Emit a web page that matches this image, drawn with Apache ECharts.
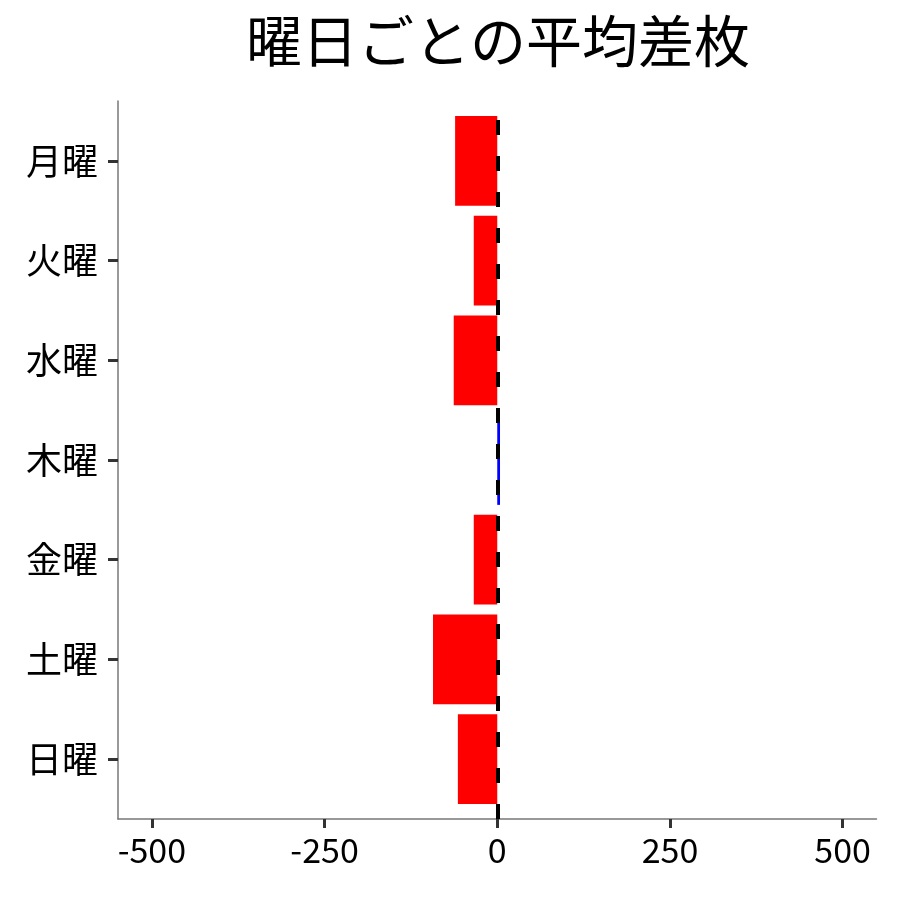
<!DOCTYPE html>
<html>
<head>
<meta charset="utf-8">
<script src="https://cdn.jsdelivr.net/npm/echarts@6/dist/echarts.min.js"></script>
<style>
  html, body { margin: 0; padding: 0; background: #fff; }
  #chart { width: 900px; height: 900px; }
</style>
</head>
<body>
<div id="chart"></div>
<script>
// weekday labels, top to bottom
var days = ['月曜', '火曜', '水曜', '木曜', '金曜', '土曜', '日曜']
// average difference per weekday
var avgDiff = [-61, -34, -63, 4, -34, -93, -57]
// x axis ticks
var xTicks = [-500, -250, 0, 250, 500]

var font = 'Noto Sans CJK JP'

var chart = echarts.init(document.getElementById('chart'))

chart.setOption({
  animation: false,
  backgroundColor: '#fff',
  title: {
    text: '曜日ごとの平均差枚',
    left: 493,
    top: 8,
    textAlign: 'center',
    textStyle: { fontFamily: font, fontSize: 56, fontWeight: 'normal', color: '#000' }
  },
  // outer grid holds the visible x axis and the y axis line; inner grid holds the bars
  grid: [
    { left: 118, right: 23.5, top: 101, bottom: 81 },
    { left: 118, right: 23.5, top: 111, bottom: 91 }
  ],
  xAxis: [
    {
      gridIndex: 0,
      type: 'value',
      min: -549,
      max: 549,
      axisLine: { show: true, onZero: false, lineStyle: { color: '#777', width: 1.5 } },
      axisTick: { show: true, customValues: xTicks, length: 9, lineStyle: { color: '#333', width: 3 } },
      axisLabel: {
        customValues: xTicks,
        margin: 14,
        fontFamily: font,
        fontSize: 34,
        color: '#000'
      },
      splitLine: { show: false }
    },
    {
      gridIndex: 1,
      type: 'value',
      min: -549,
      max: 549,
      show: false
    }
  ],
  yAxis: [
    {
      gridIndex: 0,
      type: 'value',
      min: 0,
      max: 1,
      axisLine: { show: true, onZero: false, lineStyle: { color: '#777', width: 1.5 } },
      axisTick: { show: false },
      axisLabel: { show: false },
      splitLine: { show: false }
    },
    {
      gridIndex: 1,
      type: 'category',
      data: days,
      inverse: true,
      axisLine: { show: false, onZero: false },
      axisTick: { show: true, alignWithLabel: true, length: 10, lineStyle: { color: '#333', width: 3 } },
      axisLabel: { margin: 20, fontFamily: font, fontSize: 36, color: '#000' },
      splitLine: { show: false }
    }
  ],
  series: [
    {
      type: 'bar',
      xAxisIndex: 1,
      yAxisIndex: 1,
      barWidth: '90%',
      z: 2,
      data: avgDiff.map(function (v) {
        return { value: v, itemStyle: { color: v < 0 ? '#ff0000' : '#0000ff' } }
      })
    },
    {
      // dashed zero line across the whole panel
      type: 'line',
      xAxisIndex: 0,
      yAxisIndex: 0,
      data: [],
      z: 5,
      markLine: {
        silent: true,
        symbol: 'none',
        label: { show: false },
        lineStyle: { color: '#000', width: 4, type: [15, 21] },
        data: [{ xAxis: 0 }]
      }
    }
  ]
})
</script>
</body>
</html>
